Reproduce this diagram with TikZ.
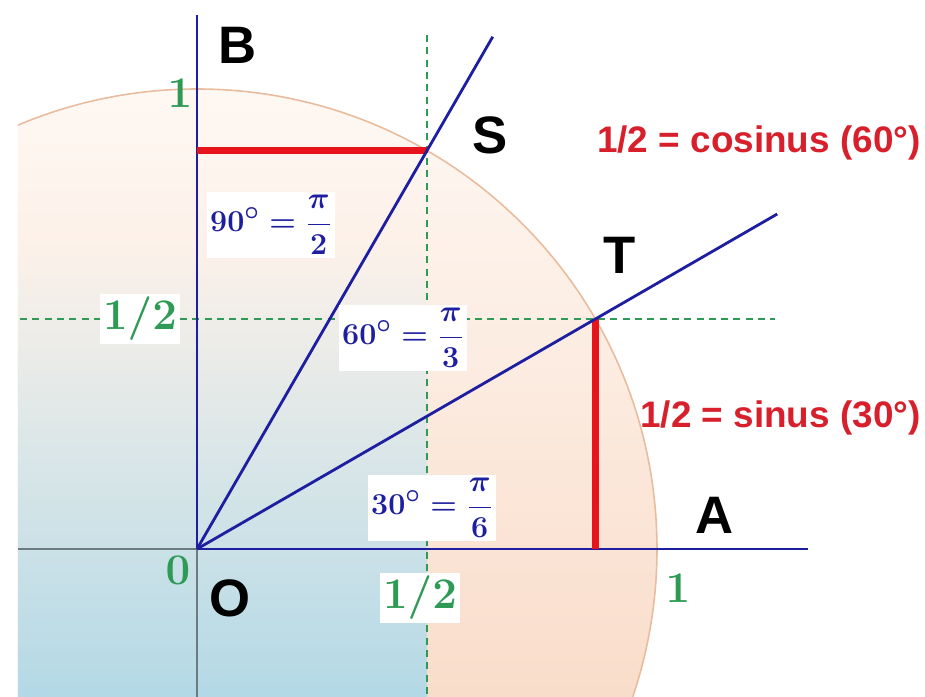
\documentclass[tikz,border=0pt]{standalone}
\usepackage{fontspec}
\newfontfamily\arial{Liberation Sans}
\definecolor{bleutrait}{HTML}{1E1EA0}
\definecolor{rouge}{HTML}{E8141C}
\definecolor{rougetexte}{HTML}{D8202C}
\definecolor{vert}{HTML}{2E9A55}
\definecolor{peche}{HTML}{F7CFB6}
\definecolor{pechepale}{HTML}{FEF8F3}
\definecolor{ciel}{HTML}{B3D9E6}
\definecolor{cercle}{HTML}{E8BC9C}
\definecolor{gris}{HTML}{6B7B80}

\begin{document}
\begin{tikzpicture}[
  rayon/.style={draw=bleutrait, line width=1.6pt},
  axe/.style={draw=gris, line width=1pt},
  projection/.style={draw=rouge, line width=3.6pt},
  repere/.style={draw=vert, line width=1pt, dash pattern=on 4pt off 3pt},
  lettre/.style={font=\arial\bfseries\fontsize{30}{30}\selectfont, text=black, inner sep=0pt},
  angle/.style={font=\fontsize{19}{22}\selectfont\boldmath, text=bleutrait,
                fill=white, inner sep=2pt},
  graduation/.style={font=\fontsize{23}{26}\selectfont\boldmath, text=vert, inner sep=2pt},
  formule/.style={font=\arial\bfseries\fontsize{21}{24}\selectfont, text=rougetexte,
                  inner sep=0pt, anchor=east}
]

% ---- cadre ----------------------------------------------------------
\useasboundingbox (-3.94,-2.96) rectangle (14.56,10.98);

% ---- points ---------------------------------------------------------
\coordinate (O) at (0,0);
\coordinate (S) at (60:9.2);
\coordinate (T) at (30:9.2);
\coordinate (finA) at (12.22,0);
\coordinate (finB) at (0,10.68);
\coordinate (finS) at (60:11.83);
\coordinate (finT) at (30:13.4);
\coordinate (finGauche) at (-3.58,0);
\coordinate (finBas) at (0,-2.96);
\coordinate (piedS) at (O |- S);
\coordinate (piedT) at (T |- O);
\coordinate (hautV) at (4.6,10.28);
\coordinate (basV) at (4.6,-2.96);
\coordinate (gaucheH) at (-3.54,4.6);
\coordinate (droiteH) at (11.56,4.6);

% ---- fonds: disque pêche, puis bande bleue à gauche -----------------
\begin{scope}
  \clip (-3.58,-2.96) rectangle (14.56,10.98);
  \shade[top color=pechepale, bottom color=peche] (O) circle (9.2);
  \shade[top color=peche!16!pechepale, bottom color=ciel] (-3.58,-2.96) rectangle (4.6,6.2);
  \draw[draw=cercle, line width=0.9pt] (O) circle (9.2);   % cercle unité
\end{scope}

% ---- repères pointillés ---------------------------------------------
\draw[repere] (hautV) -- (basV);       % x = 1/2
\draw[repere] (gaucheH) -- (droiteH);  % y = 1/2

% ---- axes et rayons -------------------------------------------------
\draw[axe] (finGauche) -- (O);
\draw[axe] (O) -- (finBas);
\draw[rayon] (O) -- (finA);
\draw[rayon] (O) -- (finB);
\draw[projection] (piedS) -- (S);      % cosinus (60°)
\draw[projection] (T) -- (piedT);      % sinus (30°)
\draw[rayon] (O) -- (finS);
\draw[rayon] (O) -- (finT);

% ---- lettres --------------------------------------------------------
\node[lettre] (lB) at (0.82,10.08) {B};
\node[lettre] (lS) at (5.86,8.28) {S};
\node[lettre] (lT) at (8.46,5.88) {T};
\node[lettre] (lA) at (10.36,0.68) {A};
\node[lettre] (lO) at (0.66,-0.98) {O};

% ---- angles ---------------------------------------------------------
\node[angle] (a90) at (1.48,6.48) {$\displaystyle 90^\circ=\frac{\pi}{2}$};
\node[angle] (a60) at (4.12,4.22) {$\displaystyle 60^\circ=\frac{\pi}{3}$};
\node[angle] (a30) at (4.70,0.82) {$\displaystyle 30^\circ=\frac{\pi}{6}$};

% ---- graduations ----------------------------------------------------
\node[graduation] (g1haut) at (-0.34,9.12) {$1$};
\node[graduation, fill=white] (gdemiGauche) at (-1.14,4.6) {$1/2$};
\node[graduation] (g0) at (-0.38,-0.42) {$0$};
\node[graduation, fill=white] (gdemiBas) at (4.46,-0.98) {$1/2$};
\node[graduation] (g1droite) at (9.62,-0.78) {$1$};

% ---- formules -------------------------------------------------------
\node[formule] (cosinus) at (14.48,8.12) {1/2 = cosinus (60°)};
\node[formule] (sinus) at (14.48,2.62) {1/2 = sinus (30°)};

\end{tikzpicture}
\end{document}
